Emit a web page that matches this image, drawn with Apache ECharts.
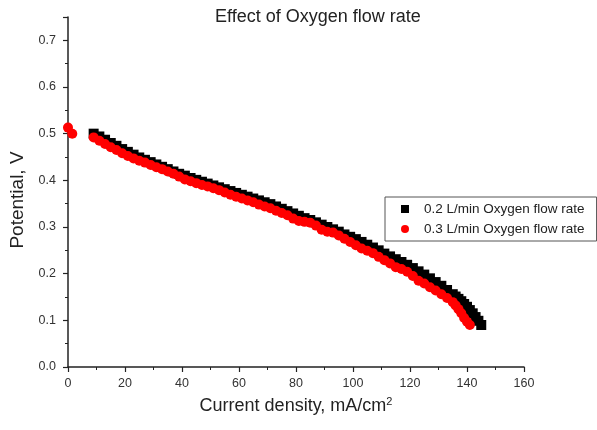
<!DOCTYPE html>
<html>
<head>
<meta charset="utf-8">
<script src="https://cdn.jsdelivr.net/npm/echarts@6/dist/echarts.min.js"></script>
<style>
  html, body { margin: 0; padding: 0; background: #fff; }
  #chart { width: 597px; height: 430px; }
</style>
</head>
<body>
<div id="chart"></div>
<script>
// 0.2 L/min series (black squares)
const lowX = [9, 11, 13, 15, 17, 19, 21, 23, 25, 27, 29, 31, 33, 35, 37, 39, 41, 43, 45, 47, 49, 51, 53, 55, 57, 59, 61, 63, 65, 67, 69, 71, 73, 75, 77, 79, 81, 83, 85, 87, 89, 91, 93, 95, 97, 99, 101, 103, 105, 107, 109, 111, 113, 115, 117, 119, 121, 123, 125, 127, 129, 131, 133, 135, 136, 137, 138, 139, 140, 141, 142, 143, 144, 145]
const lowY = [0.500, 0.494, 0.487, 0.480, 0.474, 0.467, 0.461, 0.455, 0.449, 0.444, 0.439, 0.434, 0.429, 0.424, 0.419, 0.414, 0.410, 0.405, 0.401, 0.397, 0.393, 0.389, 0.385, 0.381, 0.377, 0.373, 0.369, 0.365, 0.361, 0.357, 0.353, 0.349, 0.344, 0.339, 0.334, 0.329, 0.324, 0.319, 0.315, 0.310, 0.305, 0.300, 0.295, 0.290, 0.284, 0.279, 0.274, 0.268, 0.262, 0.256, 0.250, 0.243, 0.237, 0.231, 0.225, 0.219, 0.212, 0.205, 0.198, 0.190, 0.182, 0.174, 0.165, 0.156, 0.151, 0.146, 0.141, 0.135, 0.129, 0.122, 0.115, 0.107, 0.099, 0.090]

// 0.3 L/min series (red circles)
const highX = [0, 1.5, 9, 11, 13, 15, 17, 19, 21, 23, 25, 27, 29, 31, 33, 35, 37, 39, 41, 43, 45, 47, 49, 51, 53, 55, 57, 59, 61, 63, 65, 67, 69, 71, 73, 75, 77, 79, 81, 83, 85, 87, 89, 91, 93, 95, 97, 99, 101, 103, 105, 107, 109, 111, 113, 115, 117, 119, 121, 123, 125, 127, 129, 131, 133, 135, 136, 137, 138, 139, 140, 141]
const highY = [0.513, 0.500, 0.492, 0.485, 0.478, 0.471, 0.465, 0.458, 0.452, 0.447, 0.442, 0.438, 0.433, 0.428, 0.424, 0.419, 0.414, 0.408, 0.402, 0.398, 0.394, 0.390, 0.387, 0.383, 0.379, 0.374, 0.369, 0.365, 0.361, 0.357, 0.353, 0.348, 0.344, 0.340, 0.335, 0.330, 0.325, 0.318, 0.313, 0.311, 0.309, 0.303, 0.294, 0.290, 0.288, 0.282, 0.275, 0.268, 0.261, 0.254, 0.249, 0.244, 0.236, 0.229, 0.222, 0.214, 0.210, 0.204, 0.195, 0.185, 0.179, 0.171, 0.164, 0.156, 0.148, 0.139, 0.132, 0.124, 0.115, 0.105, 0.097, 0.090]

const seriesNames = ['0.2 L/min Oxygen flow rate', '0.3 L/min Oxygen flow rate']

function pairs(xs, ys) {
    return xs.map((x, i) => [x, ys[i]])
}

const font = 'Liberation Sans, Arial, sans-serif'
const axisColor = '#222'

let chartInstance = echarts.init(document.getElementById('chart'))

const option = {
    backgroundColor: '#fff',
    animation: false,
    title: {
        text: 'Effect of Oxygen flow rate',
        left: 210,
        top: 3,
        textStyle: { fontFamily: font, fontSize: 18, fontWeight: 'normal', color: '#222' }
    },
    grid: { left: 68, right: 73, top: 17, bottom: 63 },
    legend: {
        orient: 'vertical',
        left: 385,
        top: 197,
        padding: [5, 12, 5, 16],
        itemGap: 6,
        itemWidth: 8,
        itemHeight: 8,
        borderColor: '#555',
        borderWidth: 1,
        textStyle: { fontFamily: font, fontSize: 13.5, color: '#222', padding: [0, 0, 0, 10] },
        data: seriesNames
    },
    xAxis: {
        type: 'value',
        min: 0,
        max: 160,
        interval: 20,
        name: 'Current density, mA/cm{sup|2}',
        nameLocation: 'middle',
        nameGap: 29,
        nameTextStyle: {
            fontFamily: font, fontSize: 18, color: '#222',
            rich: { sup: { fontFamily: font, fontSize: 11, color: '#222', verticalAlign: 'top', padding: [0, 0, 9, 0] } }
        },
        axisLine: { lineStyle: { color: axisColor, width: 1.5 } },
        axisTick: { length: 5, lineStyle: { color: axisColor, width: 1.2 } },
        minorTick: { show: true, splitNumber: 2, length: 3, lineStyle: { color: axisColor } },
        axisLabel: { fontFamily: font, fontSize: 12.5, color: '#333', margin: 10 },
        splitLine: { show: false }
    },
    yAxis: {
        type: 'value',
        min: 0,
        max: 0.75,
        interval: 0.1,
        name: 'Potential, V',
        nameLocation: 'middle',
        nameGap: 32,
        nameTextStyle: { fontFamily: font, fontSize: 19, color: '#222', padding: [0, 16, 0, 0] },
        axisLine: { lineStyle: { color: axisColor, width: 1.5 } },
        axisTick: { length: 5, lineStyle: { color: axisColor, width: 1.2 } },
        minorTick: { show: true, splitNumber: 2, length: 3, lineStyle: { color: axisColor } },
        axisLabel: {
            fontFamily: font, fontSize: 12.5, color: '#333', margin: 12,
            showMaxLabel: false,
            formatter: v => v.toFixed(1)
        },
        splitLine: { show: false }
    },
    series: [
        {
            name: seriesNames[0],
            type: 'scatter',
            symbol: 'rect',
            symbolSize: 10,
            itemStyle: { color: '#000', opacity: 1 },
            data: pairs(lowX, lowY)
        },
        {
            name: seriesNames[1],
            type: 'scatter',
            symbol: 'circle',
            symbolSize: 10,
            itemStyle: { color: '#f00', opacity: 1 },
            data: pairs(highX, highY)
        }
    ]
}

chartInstance.setOption(option)
</script>
</body>
</html>
